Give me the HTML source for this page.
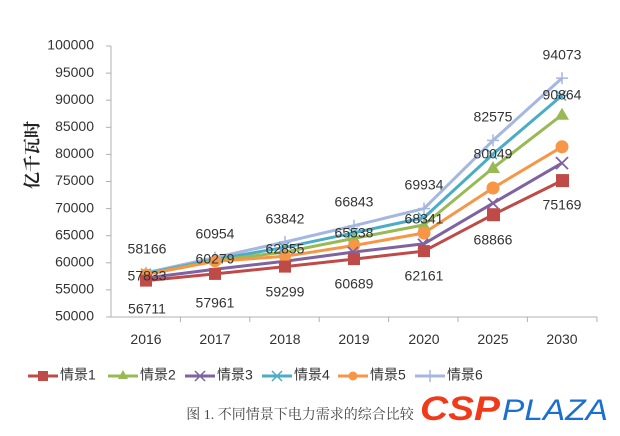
<!DOCTYPE html>
<html><head><meta charset="utf-8"><style>
html,body{margin:0;padding:0;background:#fff;}
svg{display:block;}
</style></head><body>
<svg width="620" height="436" viewBox="0 0 620 436" xmlns="http://www.w3.org/2000/svg" font-family="Liberation Sans, Noto Sans CJK SC, sans-serif">
<rect width="620" height="436" fill="#fff"/>
<!-- axes -->
<g stroke="#b0b0b0" stroke-width="1" fill="none">
<line x1="111" y1="46" x2="111" y2="317"/>
<line x1="111" y1="317" x2="597" y2="317"/>
<line x1="106" y1="46" x2="111" y2="46"/><line x1="106" y1="73.1" x2="111" y2="73.1"/><line x1="106" y1="100.2" x2="111" y2="100.2"/><line x1="106" y1="127.3" x2="111" y2="127.3"/><line x1="106" y1="154.4" x2="111" y2="154.4"/><line x1="106" y1="181.5" x2="111" y2="181.5"/><line x1="106" y1="208.6" x2="111" y2="208.6"/><line x1="106" y1="235.7" x2="111" y2="235.7"/><line x1="106" y1="262.8" x2="111" y2="262.8"/><line x1="106" y1="289.9" x2="111" y2="289.9"/><line x1="106" y1="317" x2="111" y2="317"/>
<line x1="180.4" y1="317" x2="180.4" y2="322"/><line x1="249.8" y1="317" x2="249.8" y2="322"/><line x1="319.2" y1="317" x2="319.2" y2="322"/><line x1="388.6" y1="317" x2="388.6" y2="322"/><line x1="458" y1="317" x2="458" y2="322"/><line x1="527.4" y1="317" x2="527.4" y2="322"/><line x1="597" y1="317" x2="597" y2="322"/>
</g>
<g font-size="14" fill="#333" text-anchor="end" dominant-baseline="middle">
<text x="94" y="46">100000</text><text x="94" y="73.1">95000</text><text x="94" y="100.2">90000</text><text x="94" y="127.3">85000</text><text x="94" y="154.4">80000</text><text x="94" y="181.5">75000</text><text x="94" y="208.6">70000</text><text x="94" y="235.7">65000</text><text x="94" y="262.8">60000</text><text x="94" y="289.9">55000</text><text x="94" y="317">50000</text>
</g>
<g font-size="14" fill="#333" text-anchor="middle">
<text x="146" y="344">2016</text><text x="215" y="344">2017</text><text x="285" y="344">2018</text><text x="354" y="344">2019</text><text x="424" y="344">2020</text><text x="493" y="344">2025</text><text x="562" y="344">2030</text>
</g>
<text transform="translate(38,155) rotate(-90)" text-anchor="middle" font-family="Liberation Serif, Noto Serif CJK SC, serif" font-weight="bold" font-size="17" fill="#222">亿千瓦时</text>
<!-- series -->
<g fill="none" stroke-width="3" stroke-linejoin="round">
<polyline stroke="#a4b7e0" points="146,272.7 215,257.6 285,242 354,225.7 424,208.6 493,140.4 562,78.1"/>
<polyline stroke="#4bacc6" points="146,273.6 215,259.5 285,247.3 354,232.8 424,217.6 493,154.1 562,95.5"/>
<polyline stroke="#98b954" points="146,274.2 215,260.6 285,252 354,238.4 424,224.9 493,168 562,114.8"/>
<polyline stroke="#f79646" points="146,274.5 215,261.3 285,256.3 354,245.5 424,233 493,188 562,146.8"/>
<polyline stroke="#7e62a1" points="146,278 215,269.3 285,261.2 354,252 424,243.8 493,203.2 562,163.1"/>
<polyline stroke="#be4b48" points="146,280.6 215,273.9 285,266.6 354,259.1 424,251.1 493,214.7 562,180.6"/>
</g>
<!-- markers -->
<g stroke="#a4b7e0" stroke-width="1.5">
<path d="M140 272.7h12M146 266.7v12M209 257.6h12M215 251.6v12M279 242h12M285 236v12M348 225.7h12M354 219.7v12M418 208.6h12M424 202.6v12M487 140.4h12M493 134.4v12M556 78.1h12M562 72.1v12"/>
</g>
<g stroke="#4bacc6" stroke-width="1.5">
<path d="M141 268.6l10 10M151 268.6l-10 10M141 273.6h10M279 242.3l10 10M289 242.3l-10 10M280 247.3h10M348 227.8l10 10M358 227.8l-10 10M418 212.6l10 10M428 212.6l-10 10M487 149.1l10 10M497 149.1l-10 10M556 90.5l10 10M566 90.5l-10 10M557 95.5h10"/>
</g>
<g fill="#98b954">
<path d="M146 268l6 10h-12zM215 254.6l6 10h-12zM285 246l6 10h-12zM354 232.4l6 10h-12zM424 218.9l6 10h-12zM493 161l7 12h-14zM562 107.8l7 12h-14z"/>
</g>
<g fill="#f79646">
<circle cx="146" cy="274.5" r="6"/><circle cx="215" cy="261.3" r="6"/><circle cx="285" cy="256.3" r="6"/><circle cx="354" cy="245.5" r="6"/><circle cx="424" cy="233" r="6.5"/><circle cx="493" cy="188" r="6.5"/><circle cx="562" cy="146.8" r="6.5"/>
</g>
<g stroke="#7e62a1" stroke-width="1.8">
<path d="M488 198.2l10 10M498 198.2l-10 10M556 157.1l12 12M568 157.1l-12 12M348 247l10 10M358 247l-10 10M418 238.8l10 10M428 238.8l-10 10"/>
</g>
<g fill="#be4b48">
<rect x="140" y="274.6" width="12" height="12"/><rect x="209" y="267.9" width="12" height="12"/><rect x="279" y="260.6" width="12" height="12"/><rect x="348" y="253.1" width="12" height="12"/><rect x="418" y="245.1" width="12" height="12"/><rect x="487" y="208.2" width="13" height="13"/><rect x="556" y="174.1" width="13" height="13"/>
</g>
<!-- data labels -->
<g font-size="14" fill="#333" text-anchor="middle" dominant-baseline="middle">
<text x="147" y="250">58166</text><text x="147" y="277">57833</text><text x="147" y="310">56711</text>
<text x="215" y="235">60954</text><text x="215" y="260">60279</text><text x="215" y="304">57961</text>
<text x="285" y="220">63842</text><text x="285" y="250">62855</text><text x="285" y="293">59299</text>
<text x="354" y="203">66843</text><text x="354" y="234">65538</text><text x="354" y="285">60689</text>
<text x="424" y="186">69934</text><text x="424" y="220">68341</text><text x="424" y="277">62161</text>
<text x="493" y="118">82575</text><text x="493" y="155">80049</text><text x="493" y="241">68866</text>
<text x="562" y="56">94073</text><text x="562" y="96">90864</text><text x="562" y="206">75169</text>
</g>
<!-- legend -->
<g stroke-width="3">
<line x1="28" y1="376" x2="58" y2="376" stroke="#be4b48"/><rect x="38" y="371" width="10" height="10" fill="#be4b48"/>
<line x1="108" y1="376" x2="138" y2="376" stroke="#98b954"/><path d="M123 370l5 9h-10z" fill="#98b954" stroke="none"/>
<line x1="185" y1="376" x2="215" y2="376" stroke="#7e62a1"/><path d="M195 371l10 10M205 371l-10 10" stroke="#7e62a1" stroke-width="1.5"/>
<line x1="262" y1="376" x2="292" y2="376" stroke="#4bacc6"/><path d="M272 371l10 10M282 371l-10 10" stroke="#4bacc6" stroke-width="1.5"/>
<line x1="338" y1="376" x2="368" y2="376" stroke="#f79646"/><circle cx="353" cy="376" r="4.5" fill="#f79646" stroke="none"/>
<line x1="415" y1="376" x2="445" y2="376" stroke="#a4b7e0"/><path d="M430 370v12" stroke="#a4b7e0" stroke-width="1.5"/>
</g>
<g font-size="14" fill="#333" dominant-baseline="middle">
<text x="60" y="376">情景1</text><text x="140" y="376">情景2</text><text x="217" y="376">情景3</text><text x="294" y="376">情景4</text><text x="370" y="376">情景5</text><text x="447" y="376">情景6</text>
</g>
<text x="300" y="419" text-anchor="middle" font-family="Liberation Serif, Noto Serif CJK SC, serif" font-size="14" fill="#444">图 1. 不同情景下电力需求的综合比较</text>
<text x="420" y="420" font-size="34" font-weight="bold" font-style="italic" fill="#f03a1a" textLength="80" lengthAdjust="spacingAndGlyphs">CSP</text>
<text x="502" y="420" font-size="30" font-style="italic" fill="#1a6fd0" textLength="106" lengthAdjust="spacingAndGlyphs">PLAZA</text>
</svg>
</body></html>
